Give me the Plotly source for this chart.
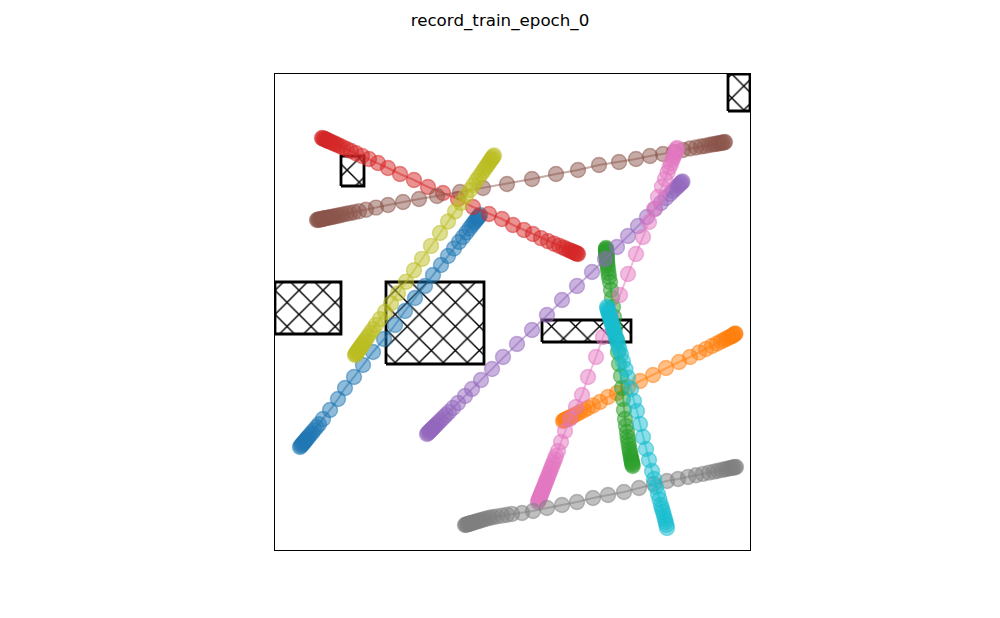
import plotly.graph_objects as go

title_text = "record_train_epoch_0"

colors = ["#1f77b4", "#ff7f0e", "#2ca02c", "#d62728", "#9467bd",
          "#8c564b", "#e377c2", "#7f7f7f", "#bcbd22", "#17becf"]

# agent trajectories (data units, plot spans 0..475 x 0..476)
blue_x = [25, 26, 27, 28, 29, 30, 31, 32, 33.5, 35, 37, 39, 41.5, 44, 48, 55, 63, 70, 79, 88, 98, 109, 120, 130,
          140, 150, 158, 166, 173, 179, 184, 188, 191.5, 194.5, 197, 199, 200.5, 202, 203, 204, 205]
blue_y = [103, 104.2, 105.4, 106.6, 107.8, 109, 110.2, 111.4, 113.2, 115, 117.4, 119.8, 122.8, 125.8, 131, 140,
          151, 162, 173, 185, 198, 211, 225, 239, 252, 264, 275, 285, 294, 301.5, 308, 313, 317.5, 321.5, 324.7,
          327.3, 329.2, 331.2, 332.5, 333.8, 335]

orange_x = [288, 289, 290, 291, 292, 293.5, 295, 297, 299, 302, 305, 309, 313, 318, 325, 333, 342, 353, 365, 378,
            391, 404, 415, 424, 431, 437, 442, 446, 449, 451.5, 453.5, 455.5, 457, 458, 459, 460, 460.5]
orange_y = [129, 129.5, 130, 130.5, 131, 131.8, 132.6, 133.6, 134.7, 136.2, 137.8, 139.9, 142, 144.6, 148, 153,
            157, 163, 169, 175, 182, 188, 193, 197.5, 201, 204, 206.5, 208.5, 210, 211.3, 212.3, 213.3, 214, 214.5,
            215.5, 216, 216.5]

green_x = [331, 331, 331, 331.1, 331.2, 331.3, 331.4, 331.5, 331.6, 331.7, 331.8, 332, 332.2, 332.5, 333, 333.5,
           334, 335, 336, 337, 338, 339, 340, 342, 343, 344, 346, 347, 348, 349, 350, 351, 352, 352.6, 353.2, 353.8,
           354.4, 355, 355.5, 356, 356.4, 356.8, 357.1, 357.4, 357.7]
green_y = [302, 301, 300, 299, 298, 297, 296, 295, 294, 292.5, 291, 289, 287, 284.5, 281, 277, 273, 268, 260, 252,
           243, 233, 222, 210, 198, 186, 174, 162, 151, 140, 131, 124, 118, 113, 109, 105, 101, 98, 95, 92.5, 90.5,
           88.5, 87, 85.5, 84]

red_x = [47, 48, 49, 50, 51, 52, 53, 54, 56, 58, 60, 62, 65, 68, 72, 76, 81, 87, 94, 103, 113, 125, 139, 153, 168,
         183, 198, 214, 227, 238, 249, 258, 266, 273, 279, 284, 288, 291, 294, 296, 298, 299.5, 301, 302, 303]
red_y = [412, 411.6, 411.1, 410.7, 410.2, 409.8, 409.3, 408.9, 408, 407.1, 406.2, 405.3, 404, 402.6, 400.8, 399,
         396.8, 394.1, 391, 387, 382, 376, 370, 363, 357, 351, 343, 336, 331, 325, 320, 316, 311.9, 308.9, 306.3,
         304.2, 302.5, 301.2, 299.9, 299, 298.2, 297.5, 296.9, 296.4, 296]

purple_x = [152, 153, 154, 155, 156, 157, 158, 159, 160.5, 162, 164, 166, 168.5, 171, 174, 178, 183, 190, 197, 206,
            217, 228, 242, 257, 272, 287, 302, 317, 330, 342, 353, 363, 372, 380, 386, 391, 395, 398, 400.5, 402.5,
            404, 405.5, 406.5, 407.5]
purple_y = [116, 117, 118, 119, 120, 121, 122, 123, 124.5, 126, 128, 130, 132.5, 135, 138, 142, 147, 154, 161, 170,
            181, 193, 206, 220, 235, 250, 264, 278, 291, 303, 314, 324, 333, 341, 347, 352, 356, 359, 361.5, 363.5,
            365, 366.5, 367.5, 368.5]

brown_x = [42, 43, 44, 45, 46, 47, 48, 49, 50, 51.5, 53, 54.5, 56, 58, 60, 62.5, 65, 68, 71.5, 75, 79, 84, 91, 101,
           113, 128, 144, 162, 185, 208, 232, 257, 281, 303, 324, 344, 361, 375, 388, 399, 408, 415, 421, 426, 430,
           434, 437, 440, 442, 444, 446, 447.5, 449, 450]
brown_y = [330, 330.2, 330.4, 330.6, 330.8, 331.1, 331.3, 331.5, 331.7, 332, 332.3, 332.6, 332.9, 333.4, 333.8,
           334.3, 334.8, 335.5, 336.2, 336.9, 337.8, 338.8, 340.3, 342.4, 345, 348, 351, 354, 358, 362, 366, 371,
           376, 380, 385, 388, 391, 394, 396, 398, 400, 401.5, 402.5, 403.5, 404, 405, 405.5, 406, 406.3, 406.7,
           407, 407.3, 407.6, 408]

pink_x = [263, 263.5, 264, 264.5, 265, 265.5, 266, 266.7, 267.4, 268.1, 268.8, 269.6, 270.4, 271.2, 272, 273, 274,
          275, 276, 277.2, 278.4, 279.7, 281, 283, 286, 290, 295, 301, 307, 313, 321, 328, 336, 345, 353, 361, 368,
          374, 379, 383, 387, 390, 392.5, 394.5, 396, 397.5, 398.5, 399.5, 400.5, 401.5, 402]
pink_y = [48, 49.3, 50.6, 51.8, 53.1, 54.4, 55.7, 57.4, 59.2, 61, 62.8, 64.8, 66.9, 68.9, 71, 73.5, 76, 78.6, 81.2,
          84.2, 87.3, 90.6, 93.9, 99, 108, 119, 131, 143, 155, 173, 193, 213, 234, 255, 276, 296, 313, 328, 341, 353,
          363.3, 371, 377.5, 382.7, 386.5, 390.4, 393, 395.6, 398.1, 400.7, 402]

gray_x = [190, 191, 192, 193, 194, 195, 196, 197, 198.5, 200, 201.5, 203, 205, 207, 209.5, 212, 215, 218, 222, 227,
          232, 237, 247, 258, 272, 287, 302, 318, 333, 349, 364, 379, 392, 403, 413, 421, 428, 434, 439, 443, 447,
          450, 452.5, 455, 457, 458.5, 460, 461]
gray_y = [25, 25.3, 25.6, 25.9, 26.2, 26.5, 26.8, 27.1, 27.6, 28, 28.5, 28.9, 29.5, 30.1, 30.9, 31.6, 32.2, 32.9,
          33.6, 34.4, 35.2, 36, 37, 39, 42, 45, 48, 52, 55, 58, 62, 66, 69, 71, 73, 74.7, 76.1, 77.4, 78.4, 79.3,
          80.1, 80.8, 81.3, 81.8, 82.2, 82.5, 82.8, 83]

olive_x = [80, 80.7, 81.4, 82.1, 82.8, 83.5, 84.2, 85, 86, 87, 88, 89.5, 91, 93, 95.5, 98, 101, 105, 110, 116, 123,
           131, 139, 147, 156, 165, 173, 180, 186, 191, 195, 198.5, 201.5, 204, 206.5, 208.5, 210.5, 212, 213.5,
           215, 216, 217, 218, 219]
olive_y = [195, 196, 197, 198, 199, 200, 201, 202.2, 203.6, 205, 206.5, 208.6, 210.8, 213.7, 217.2, 220.8, 225.1,
           230.9, 238, 246.7, 256.7, 268.2, 279.7, 291.1, 304.1, 317, 328.5, 338.5, 347.1, 354.3, 360, 365, 369.4,
           373, 376.5, 379.4, 382.3, 384.4, 386.6, 388.7, 390.2, 391.6, 393, 394.5]

cyan_x = [332, 332.5, 333, 333.5, 334, 334.5, 335, 335.7, 336.4, 337.1, 337.8, 338.6, 339.4, 340.3, 341.2, 342.2,
          343.3, 344.5, 346, 348, 350.5, 353, 356, 359, 362, 365, 368, 371, 374, 377, 379, 381, 383, 384.5, 386,
          387, 388, 389, 390, 390.7, 391.4, 392]
cyan_y = [243, 241.3, 239.6, 237.9, 236.2, 234.5, 232.8, 230.4, 228, 225.7, 223.3, 220.6, 217.8, 214.8, 211.7,
          208.3, 204.6, 200.5, 195.4, 188.6, 181, 172.5, 161, 149, 139, 126, 113, 101, 90, 79, 71, 63, 56, 50.5,
          45, 41.5, 38, 34.5, 31, 28, 25, 22]

agents_x = [blue_x, orange_x, green_x, red_x, purple_x, brown_x, pink_x, gray_x, olive_x, cyan_x]
agents_y = [blue_y, orange_y, green_y, red_y, purple_y, brown_y, pink_y, gray_y, olive_y, cyan_y]

for i, (ax_, ay_) in enumerate(zip(agents_x, agents_y)):
    assert len(ax_) == len(ay_), (i, len(ax_), len(ay_))

# obstacles (rectangles)
obs_x0 = [66, 0, 111, 267, 453]
obs_x1 = [89, 66, 209, 356, 475]
obs_y0 = [364, 216, 186, 208, 439]
obs_y1 = [394, 268, 268, 230, 476]

x_range = [0, 475]
y_range = [0, 476]


def rgba(hex_color, a):
    h = hex_color.lstrip("#")
    r, g, b = int(h[0:2], 16), int(h[2:4], 16), int(h[4:6], 16)
    return f"rgba({r},{g},{b},{a})"


fig = go.Figure()

for x0, x1, y0, y1 in zip(obs_x0, obs_x1, obs_y0, obs_y1):
    fig.add_trace(go.Scatter(
        x=[x0, x1, x1, x0, x0], y=[y0, y0, y1, y1, y0],
        mode="lines", fill="toself", fillcolor="white",
        fillpattern=dict(shape="x", size=17, solidity=0.16,
                         fgcolor="black", bgcolor="white", fgopacity=1),
        line=dict(color="black", width=2.8),
        hoverinfo="skip", showlegend=False,
    ))

for c, xs, ys in zip(colors, agents_x, agents_y):
    fig.add_trace(go.Scatter(
        x=xs, y=ys, mode="lines+markers",
        line=dict(color=rgba(c, 0.5), width=2),
        marker=dict(size=15, color=rgba(c, 0.5),
                    line=dict(color=rgba(c, 0.5), width=1.4)),
        showlegend=False,
    ))

axis_common = dict(showgrid=False, zeroline=False, showticklabels=False,
                   ticks="", showline=True, mirror=True, linecolor="black",
                   linewidth=1)

fig.update_layout(
    width=1000, height=618,
    margin=dict(l=275, r=250, t=74, b=68),
    paper_bgcolor="white", plot_bgcolor="white",
    title=dict(text=title_text, x=0.5, xanchor="center",
               y=1 - 20 / 618, yanchor="middle", yref="container",
               font=dict(family="DejaVu Sans", size=16.7, color="black")),
    xaxis=dict(range=x_range, **axis_common),
    yaxis=dict(range=y_range, **axis_common),
    showlegend=False,
)

fig.write_html("out.html")
